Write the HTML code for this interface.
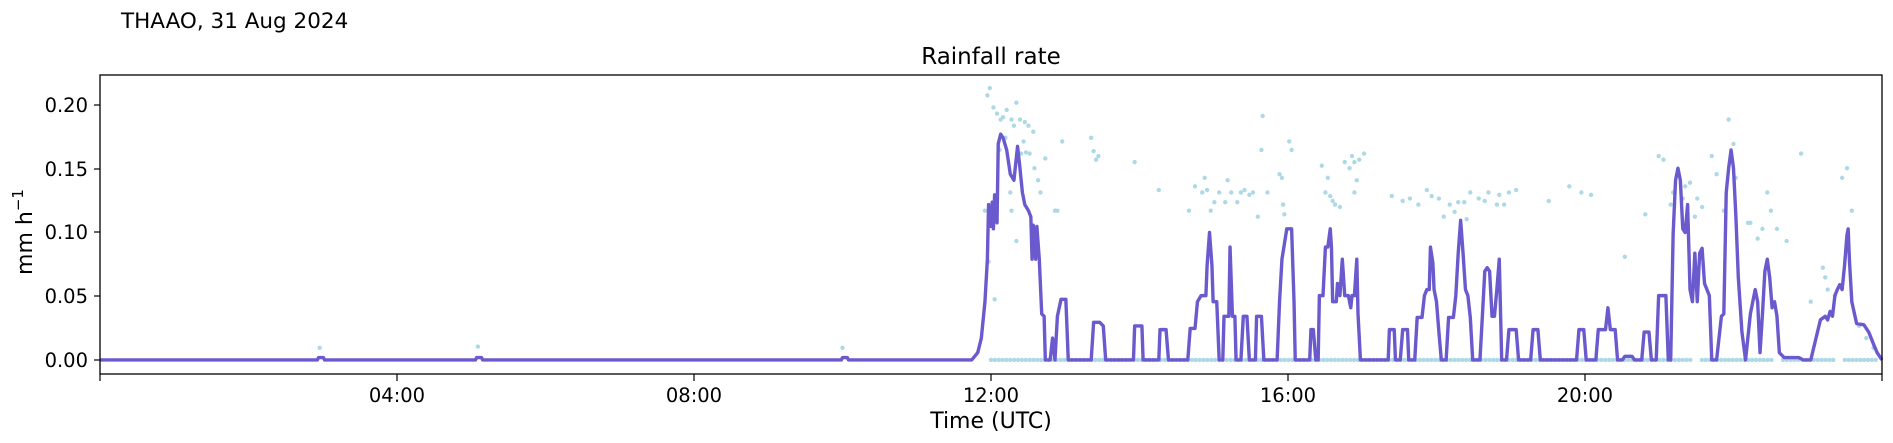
<!DOCTYPE html>
<html><head><meta charset="utf-8">
<style>
html,body{margin:0;padding:0;background:#fff;}
svg{display:block;}
text{font-family:"DejaVu Sans","Liberation Sans",sans-serif;fill:#000;}
</style></head>
<body>
<svg id="s" width="1893" height="443" viewBox="0 0 1893 443" xmlns="http://www.w3.org/2000/svg">
<text x="121" y="28" font-size="21.5">THAAO, 31 Aug 2024</text>
<text x="991" y="64" font-size="23" text-anchor="middle">Rainfall rate</text>
<g id="data" transform="translate(-0.2,-1.8) scale(1.2073,1.214)"></g>
<rect x="100" y="75" width="1782" height="299" fill="none" stroke="#000" stroke-width="1.3"/>
<g stroke="#000" stroke-width="1.2">
<line x1="94" y1="105" x2="100" y2="105"/><line x1="94" y1="169" x2="100" y2="169"/>
<line x1="94" y1="232" x2="100" y2="232"/><line x1="94" y1="296" x2="100" y2="296"/>
<line x1="94" y1="360" x2="100" y2="360"/>
<line x1="100" y1="374" x2="100" y2="381"/><line x1="397" y1="374" x2="397" y2="381"/>
<line x1="694" y1="374" x2="694" y2="381"/><line x1="991" y1="374" x2="991" y2="381"/>
<line x1="1288" y1="374" x2="1288" y2="381"/><line x1="1585" y1="374" x2="1585" y2="381"/>
<line x1="1882" y1="374" x2="1882" y2="381"/>
</g>
<g font-size="19.5" text-anchor="end">
<text x="88" y="112">0.20</text><text x="88" y="176">0.15</text>
<text x="88" y="239">0.10</text><text x="88" y="303">0.05</text><text x="88" y="367">0.00</text>
</g>
<g font-size="19.5" text-anchor="middle">
<text x="397" y="402">04:00</text><text x="694" y="402">08:00</text>
<text x="991" y="402">12:00</text><text x="1288" y="402">16:00</text><text x="1585" y="402">20:00</text>
</g>
<text x="991" y="428" font-size="22" text-anchor="middle">Time (UTC)</text>
<text transform="translate(32,232) rotate(-90)" font-size="22" text-anchor="middle">mm h<tspan font-size="15" dy="-9">−1</tspan></text>
</svg>
<script>
var g=document.getElementById('data'),h='';
var pts=[[265,288],[396,287],[698,288],[820,74],[818,80],[823,90],[826,95],[829,100],[831,98],[834,92],[838,100],[842,86],[840,105],[845,100],[849,102],[852,105],[856,110],[848,118],[846,128],[850,127],[853,128],[857,140],[860,150],[862,160],[866,132],[874,175],[876,175],[880,118],[842,200],[816,175],[819,217],[824,248],[828,125],[833,115],[837,160],[838,175],
[904,115],[906,126],[910,130],[908,133],[940,135],[960,158],[985,175],[990,155],[996,160],[998,148],[1000,158],[1003,175],[1006,168],[1010,160],[1015,168],[1017,150],[1020,160],[1025,168],[1028,160],[1031,158],[1035,162],[1038,160],[1046,97],[1042,180],[1045,125],
[1050,160],[1060,145],[1062,148],[1063,170],[1064,178],[1068,118],[1070,125],[1095,138],[1100,148],[1098,160],[1102,163],[1104,167],[1106,170],[1110,172],[1114,135],[1118,140],[1120,130],[1122,135],[1126,133],[1130,128],[1124,150],[1122,160],
[1153,163],[1162,167],[1168,165],[1175,170],[1182,158],[1186,163],[1192,165],[1196,180],[1201,170],[1205,176],[1208,168],[1213,168],[1215,182],[1210,195],[1218,160],[1225,165],[1230,167],[1233,160],[1240,170],[1242,162],[1246,170],[1250,160],[1256,158],[1283,167],[1300,155],[1310,160],[1318,162],
[1346,213],[1363,178],[1374,130],[1378,133],[1384,170],[1386,160],[1394,165],[1396,155],[1400,152],[1404,180],[1406,165],[1410,172],[1418,130],[1422,145],[1428,175],[1432,100],[1436,120],[1438,148],[1448,185],[1450,185],[1456,198],[1460,190],[1464,160],[1467,175],[1472,190],[1480,200],[1492,128],[1500,250],[1510,222],[1512,230],[1514,240],[1520,245],[1526,148],[1530,140],[1534,175],[1540,270],[1546,280],[1552,288]];
for(var x=821;x<1556;x+=3.2){ if((x>1402&&x<1408)||(x>1470&&x<1474)||(x>1520&&x<1528))continue; pts.push([x,298]);}
pts.forEach(function(p){h+='<circle cx="'+p[0]+'" cy="'+p[1]+'" r="1.8" fill="#add8e6"/>';});
var L="83,298 263,298 264,296 268,296 269,298 394,298 395,296 399,296 400,298 697,298 698,296 702,296 703,298 805,298 810,292 813,280 816,250 818,215 819,170 821,188 822,168 823,190 824,162 826,185 827,120 829,112 831,115 834,125 837,145 840,150 843,122 845,140 847,160 849,170 852,175 854,180 855,215 856,187 858,215 859,188 861,215 863,260 865,262 866,298 870,298 872,280 874,298 876,262 879,248 883,248 885,298 904,298 906,267 911,267 914,270 916,298 939,298 940,270 946,270 947,298 960,298 961,273 966,273 968,298 984,298 986,272 990,272 992,250 995,245 999,245 1000,220 1002,193 1004,220 1005,250 1008,250 1010,298 1013,298 1014,262 1018,262 1019,205 1021,262 1023,262 1024,298 1028,298 1030,262 1033,262 1035,298 1040,298 1041,262 1045,262 1047,298 1058,298 1060,250 1062,215 1066,190 1070,190 1072,250 1073,298 1085,298 1086,273 1088,273 1090,298 1092,298 1093,245 1096,245 1098,205 1100,205 1102,190 1103,205 1104,250 1107,250 1108,235 1110,245 1112,215 1114,245 1117,245 1119,255 1120,245 1122,245 1124,215 1125,260 1127,298 1150,298 1151,273 1155,273 1156,298 1160,298 1162,273 1166,273 1167,298 1172,298 1174,263 1178,263 1180,245 1182,240 1184,240 1185,205 1187,218 1188,240 1190,250 1192,275 1194,298 1198,298 1200,263 1204,263 1206,245 1208,210 1210,183 1212,210 1214,240 1216,245 1218,263 1220,298 1226,298 1228,262 1230,225 1232,222 1234,225 1236,262 1238,262 1240,240 1242,215 1244,298 1248,298 1250,273 1256,273 1258,298 1268,298 1270,273 1274,273 1276,298 1306,298 1308,273 1312,273 1314,298 1322,298 1324,273 1330,273 1332,255 1334,273 1338,273 1340,298 1344,298 1346,295 1352,295 1354,298 1360,298 1362,275 1366,275 1368,298 1372,298 1374,245 1380,245 1382,298 1384,298 1386,195 1388,150 1390,140 1392,150 1394,190 1396,193 1398,170 1400,240 1402,250 1404,210 1406,250 1408,210 1410,206 1412,235 1414,240 1416,245 1418,298 1422,298 1426,262 1428,260 1430,160 1432,140 1434,125 1436,140 1438,180 1440,230 1443,275 1446,298 1450,260 1452,250 1454,240 1456,250 1458,292 1460,260 1462,225 1464,215 1466,230 1468,255 1470,250 1472,262 1474,292 1478,296 1486,296 1490,296 1494,298 1500,298 1508,265 1512,262 1514,265 1516,258 1518,262 1520,245 1522,240 1524,236 1526,240 1528,220 1530,195 1531,190 1532,215 1534,250 1538,268 1544,269 1548,275 1552,285 1555,292 1559,298";
h+='<polyline points="'+L+'" fill="none" stroke="#6a5acd" stroke-width="3.4" stroke-linejoin="round" vector-effect="non-scaling-stroke"/>';
g.innerHTML=h;
</script>
</body></html>
